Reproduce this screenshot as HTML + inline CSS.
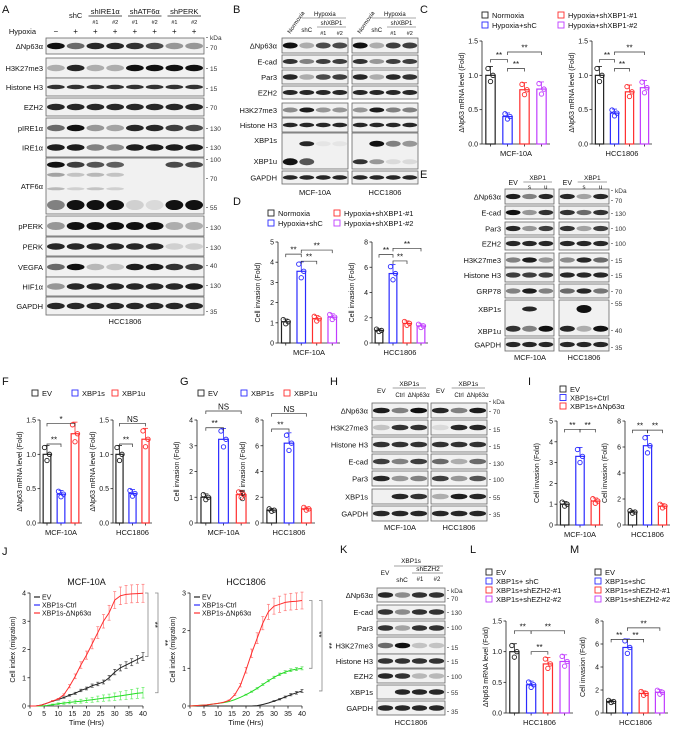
<!DOCTYPE html>
<html><head><meta charset="utf-8">
<style>
html,body{margin:0;padding:0;background:#fff;}
svg{display:block;font-family:"Liberation Sans",Arial,sans-serif;}
</style></head>
<body>
<svg id="fig" width="675" height="729" viewBox="0 0 675 729" xmlns="http://www.w3.org/2000/svg"></svg>
<script>
// ---------- chart data ----------
const cVals1=[1.0,0.40,0.79,0.80];
const cVals2=[1.0,0.45,0.76,0.82];
const dVals1=[1.05,3.55,1.2,1.28];
const dVals2=[1.0,5.5,1.55,1.35];
const fVals1=[1.0,0.42,1.3];
const fVals2=[1.0,0.43,1.22];
const gVals1=[1.0,3.25,1.1];
const gVals2=[1.0,6.2,1.1];
const iVals1=[1.0,3.3,1.15];
const iVals2=[1.0,6.1,1.45];
const lVals=[1.0,0.46,0.8,0.84];
const mVals=[1.0,5.7,1.7,1.8];
const ticks15=["0.0","0.5","1.0","1.5"];
const ticks4=["0","1","2","3","4"];
const ticks5=["0","1","2","3","4","5"];
const ticks8=["0","2","4","6","8"];
const jitter=[0.1,-0.09,0.0];
const timeHrs=[0,2,4,6,8,10,12,14,16,18,20,22,24,26,28,30,32,34,36,38,40];
const jMcfEV=[0,0,0.03,0.1,0.17,0.23,0.3,0.38,0.45,0.55,0.62,0.72,0.78,0.85,1.0,1.2,1.35,1.45,1.55,1.65,1.75];
const jMcfCtrl=[0,0,0,0.02,0.05,0.08,0.1,0.13,0.15,0.17,0.2,0.22,0.25,0.28,0.3,0.33,0.36,0.39,0.42,0.45,0.47];
const jMcfDN=[0,0,0.03,0.1,0.18,0.25,0.4,0.7,1.05,1.45,1.8,2.2,2.6,3.0,3.3,3.75,3.9,3.95,3.97,3.98,3.99];
const jHccEV=[0,0,0,0,0,0,0,0,0,0,0,0,0.01,0.04,0.08,0.13,0.18,0.24,0.3,0.35,0.4];
const jHccCtrl=[0,0.01,0.02,0.03,0.05,0.07,0.09,0.12,0.17,0.23,0.3,0.38,0.47,0.57,0.67,0.76,0.84,0.9,0.95,0.98,1.0];
const jHccDN=[0,0.01,0.02,0.03,0.05,0.07,0.1,0.15,0.3,0.55,0.95,1.4,1.8,2.2,2.5,2.65,2.7,2.75,2.77,2.78,2.8];
const jXTicks=[0,5,10,15,20,25,30,35,40];

const NS="http://www.w3.org/2000/svg";
const svg=document.getElementById('fig');
const K="#222",B="#2b2bff",R="#ff2e2e",P="#c03cff",G="#22dd22";
function el(tag,attrs,name,parent){
  const e=document.createElementNS(NS,tag);
  for(const k in attrs)e.setAttribute(k,attrs[k]);
  
  
  (parent||svg).appendChild(e);return e;
}
function t(x,y,s,size,name,anchor,extra){
  const a=Object.assign({x:x,y:y,'font-size':size,'text-anchor':anchor||'start',fill:'#111'},extra||{});
  const e=el('text',a,name);e.textContent=s;return e;
}
function line(x1,y1,x2,y2,c,w,name){return el('line',{x1,y1,x2,y2,stroke:c||'#222','stroke-width':w||0.8},name||'line');}
// ---------- blots ----------
function blot(x,y,w,h,bands,name){
  el('rect',{x:x,y:y,width:w,height:h,fill:'#f1f1f1',stroke:'#666','stroke-width':0.8},name);
  const n=bands[0][1].length,lw=w/n;
  bands.forEach(b=>{b[1].forEach((v,i)=>{
    if(v<=0)return;
    el('ellipse',{cx:x+lw*(i+0.5),cy:y+h*b[0],rx:lw*0.45,ry:b[2]||Math.min(h*0.2,3.2),fill:'#111',opacity:v},name+'-band');
  });});
}
function kda(x,arr){arr.forEach(a=>{line(x,a[1]-2.5,x+2,a[1]-2.5,'#444',0.6,'kda-tick');t(x+4,a[1],a[0],6.5,'kda-'+a[0],'start',{fill:'#333'});});}

// panel letters
[["A",2,13],["B",233,13],["C",420,13],["D",233,205],["E",420,178],["F",2,385],["G",180,385],["H",330,385],["I",528,385],["J",2,555],["K",340,553],["L",470,553],["M",570,553]]
.forEach(p=>t(p[1],p[2],p[0],11,'panel-label-'+p[0]));

// ---------- Panel A ----------
(function(){
  const x=46,w=158;
  const rows=[["ΔNp63α",38,16,[[0.5,[1,.6,.9,.9,.85,.75,.4,.4]]]],
  ["H3K27me3",58,20,[[0.5,[.3,.9,.3,.3,1,1,1,1]]]],
  ["Histone H3",78,18,[[0.5,[.85,.85,.85,.85,.85,.85,.85,.85],2.2]]],
  ["EZH2",98,18,[[0.5,[.9,.9,.9,.9,.9,.9,.9,.9]]]],
  ["pIRE1α",118,20,[[0.5,[.6,1,.4,.35,.9,.9,.8,.75]]]],
  ["IRE1α",138,19,[[0.5,[.95,.95,.5,.45,.95,.95,.95,.95]]]],
  ["ATF6α",158,56,[[0.12,[1,.8,.7,.65,0,0,.75,.75],3],[0.3,[.35,.2,.25,.2,0,0,0,0],2],[0.55,[.25,.15,.2,.15,0,0,0,0],1.5],[0.84,[.5,1,1,1,.15,.1,1,1],5]]],
  ["pPERK",216,20,[[0.5,[.4,1,1,1,1,1,.3,.3],4]]],
  ["PERK",237,19,[[0.5,[.9,.9,.9,.9,.9,.9,.15,.15]]]],
  ["VEGFA",257,20,[[0.5,[.6,1,.25,.2,.95,.95,.85,.8]]]],
  ["HIF1α",277,19,[[0.5,[.4,.9,.9,.9,.9,.9,.9,.95]]]],
  ["GAPDH",297,18,[[0.5,[.9,.9,.9,.9,.9,.9,.9,.9]]]]];
  rows.forEach(r=>{blot(x,r[1],w,r[2],r[3],'blot-a-'+r[0]);t(43,r[1]+r[2]/2+3,r[0],7.5,'label-a','end');});
  kda(206,[["kDa",40],["70",50],["15",71],["15",91],["70",110],["130",131],["130",150],["100",162],["70",181],["55",210],["130",230],["130",250],["40",268],["130",288],["35",314]]);
  const lw=w/8;
  t(36,34,"Hypoxia",7.5,'hypoxia-label','end');
  ["−","+","+","+","+","+","+","+"].forEach((s,i)=>t(x+lw*(i+0.5),34,s,8,'hypoxia-sign','middle'));
  t(x+lw*1.5,18,"shC",7.5,'lane-shc','middle');
  [["shIRE1α",2],["shATF6α",4],["shPERK",6]].forEach(g=>{t(x+lw*(g[1]+1),14,g[0],7.5,'lane-group','middle');line(x+lw*g[1]+3,16,x+lw*(g[1]+2)-3,16,'#777',1.2,'group-line');
    t(x+lw*(g[1]+0.5),24,"#1",5.5,'lane-num','middle');t(x+lw*(g[1]+1.5),24,"#2",5.5,'lane-num','middle');});
  t(125,324,"HCC1806",7.5,'cell-line-a','middle');
})();

// ---------- Panel B ----------
(function(){
  const rows=[["ΔNp63α",38,15,[[0.5,[1,.3,.75,.75]]]],["E-cad",55,13,[[0.5,[.85,.5,.8,.8],2.5]]],["Par3",70,14,[[0.5,[.9,.3,.75,.8]]]],
  ["EZH2",86,13,[[0.5,[.9,.9,.9,.9],2.5]]],["H3K27me3",103,14,[[0.5,[.45,.95,.4,.4],2.5]]],["Histone H3",118,14,[[0.5,[.9,.9,.9,.9],2.2]]],
  ["XBP1",133,36,[[0.3,[0,.9,.05,.05],2.5],[0.8,[1,.7,0,0],3.5]]],["GAPDH",171,13,[[0.5,[.9,.9,.9,.9],2.2]]]];
  const rowsH=[[1,.3,.8,.8],[.85,.4,.8,.8],[.9,.3,.9,.85],[.9,.9,.9,.9],[.4,.95,.5,.5],[.9,.9,.9,.9],null,[.9,.9,.9,.9]];
  rows.forEach((r,i)=>{
    blot(282,r[1],66,r[2],r[3],'blot-b-mcf');
    const bh=i===6?[[0.3,[0,1,.5,.4],3],[0.8,[.85,.4,.1,.1],2.5]]:[[0.5,rowsH[i],r[3][0][2]]];
    blot(352,r[1],66,r[2],bh,'blot-b-hcc');
    if(r[0]==="XBP1"){t(277,143,"XBP1s",7.5,'label-b','end');t(277,164,"XBP1u",7.5,'label-b','end');}
    else t(277,r[1]+r[2]/2+3,r[0],7.5,'label-b','end');
  });
  [282,352].forEach(x0=>{
    const lw=66/4;
    t(x0+lw*0.5,34,"Normoxia",6,'lane-normoxia','start',{transform:`rotate(-55 ${x0+lw*0.5} 34)`});
    t(x0+lw*2.6,16,"Hypoxia",6,'lane-hypoxia','middle');line(x0+lw*1.2,18,x0+lw*4-2,18,'#555',0.6,'hyp-line');
    t(x0+lw*1.5,32,"shC",6,'lane-shc','middle');t(x0+lw*3,25,"shXBP1",6,'lane-shxbp1','middle');line(x0+lw*2+2,27,x0+lw*4-2,27,'#555',0.6,'sh-line');
    t(x0+lw*2.5,35,"#1",5.5,'lane-num','middle');t(x0+lw*3.5,35,"#2",5.5,'lane-num','middle');
  });
  t(315,195,"MCF-10A",7.5,'cell-b-mcf','middle');t(385,195,"HCC1806",7.5,'cell-b-hcc','middle');
})();

// ---------- Panel E ----------
(function(){
  const rows=[["ΔNp63α",189,15,[.95,.5,.9],[.9,.35,.9]],["E-cad",206,13,[1,.4,.85],[.85,.6,.85]],["Par3",222,13,[.9,.4,.8],[.85,.35,.8]],
  ["EZH2",237,13,[.9,.9,.9],[.9,.9,.9]],["H3K27me3",253,14,[.5,.95,.4],[.45,.9,.6]],["Histone H3",268,14,[.8,.8,.8],[.9,.9,.9]],
  ["GRP78",284,14,[.5,.95,.5],[.6,.9,.55]],["XBP1",300,36,null,null],["GAPDH",338,13,[.9,.9,.9],[.9,.9,.9]]];
  rows.forEach(r=>{
    if(r[0]==="XBP1"){
      blot(505,r[1],49,r[2],[[0.25,[0,.9,0],2.5],[0.8,[.85,.5,1],3]],'blot-e-mcf');
      blot(559,r[1],50,r[2],[[0.25,[0,1,0],4],[0.8,[.9,.3,1],3]],'blot-e-hcc');
      t(501,312,"XBP1s",7.5,'label-e','end');t(501,334,"XBP1u",7.5,'label-e','end');
    } else {
      blot(505,r[1],49,r[2],[[0.5,r[3],2.6]],'blot-e-mcf');blot(559,r[1],50,r[2],[[0.5,r[4],2.6]],'blot-e-hcc');
      t(501,r[1]+r[2]/2+3,r[0],7.5,'label-e','end');
    }
  });
  kda(611,[["kDa",193],["70",203],["130",216],["100",231],["100",246],["15",263],["15",278],["70",294],["55",306],["40",333],["35",350]]);
  [[505,49],[559,50]].forEach(b=>{const lw=b[1]/3;
    t(b[0]+lw*0.5,185,"EV",7,'lane-ev','middle');t(b[0]+lw*2,180,"XBP1",6.5,'lane-xbp1','middle');line(b[0]+lw+2,182,b[0]+b[1]-2,182,'#444',0.6,'xbp1-line');
    t(b[0]+lw*1.5,189,"s",6,'lane-s','middle');t(b[0]+lw*2.5,189,"u",6,'lane-u','middle');});
  t(530,360,"MCF-10A",7.5,'cell-e-mcf','middle');t(584,360,"HCC1806",7.5,'cell-e-hcc','middle');
})();

// ---------- Panel H ----------
(function(){
  const rows=[["ΔNp63α",403,15,[.95,.5,1],[.9,.5,.95]],["H3K27me3",420,15,[.2,.85,.85],[.1,.9,.9]],["Histone H3",437,15,[.85,.85,.85],[.85,.85,.85]],
  ["E-cad",454,15,[.8,.5,.8],[.6,.3,.6]],["Par3",471,15,[.9,.4,.5],[.8,.4,.7]],["XBP1s",489,15,[0,.9,.85],[.3,.95,.9]],["GAPDH",506,15,[.9,.9,.9],[.9,.9,.9]]];
  rows.forEach(r=>{blot(372,r[1],56,r[2],[[0.5,r[3],2.8]],'blot-h-mcf');blot(431,r[1],56,r[2],[[0.5,r[4],2.8]],'blot-h-hcc');t(368,r[1]+r[2]/2+3,r[0],7.5,'label-h','end');});
  kda(489,[["kDa",404],["70",414],["15",432],["15",449],["130",466],["100",482],["55",500],["35",517]]);
  [[372,56],[431,56]].forEach(b=>{const lw=b[1]/3;
    t(b[0]+lw*0.5,393,"EV",6.5,'lane-ev','middle');t(b[0]+lw*2,386,"XBP1s",6.5,'lane-xbp1s','middle');line(b[0]+lw+2,388,b[0]+b[1]-2,388,'#444',0.6,'xbp1s-line');
    t(b[0]+lw*1.5,397,"Ctrl",6,'lane-ctrl','middle');t(b[0]+lw*2.5,397,"ΔNp63α",6,'lane-dnp63','middle');});
  t(400,530,"MCF-10A",7.5,'cell-h-mcf','middle');t(459,530,"HCC1806",7.5,'cell-h-hcc','middle');
})();

// ---------- Panel K ----------
(function(){
  const rows=[["ΔNp63α",588,14,[.9,.45,.85,.85]],["E-cad",605,14,[.85,.45,.85,.85]],["Par3",621,14,[.85,.35,.85,.85]],
  ["H3K27me3",637,17,[.6,1,.2,.2]],["Histone H3",654,14,[.85,.85,.85,.85]],["EZH2",669,14,[.9,.85,.25,.25]],["XBP1s",685,14,[0,.9,.9,.9]],["GAPDH",701,14,[.9,.9,.9,.9]]];
  rows.forEach(r=>{blot(377,r[1],68,r[2],[[0.5,r[3],2.8]],'blot-k');t(373,r[1]+r[2]/2+3,r[0],7.5,'label-k','end');});
  kda(447,[["kDa",593],["70",601],["130",615],["100",630],["15",650],["15",664],["100",679],["55",695],["35",714]]);
  t(385,575,"EV",6.5,'lane-ev','middle');t(411,563,"XBP1s",6.5,'lane-xbp1s','middle');line(394,566,443,566,'#444',0.6,'xbp1s-line');
  t(402,582,"shC",6.5,'lane-shc','middle');t(428,571,"shEZH2",6.5,'lane-shezh2','middle');line(412,573,443,573,'#444',0.6,'shezh2-line');
  t(420,581,"#1",6,'lane-num','middle');t(437,581,"#2",6,'lane-num','middle');
  t(411,725,"HCC1806",7.5,'cell-k','middle');
})();

// ---------- bar charts ----------
function barChart(o){
  const {x0,x1,y0,y1,max,ticks,vals,cols,label,ylab,name}=o;
  const ys=v=>y0-(v/max)*(y0-y1);
  const n=vals.length,gap=(x1-x0)/n,bw=gap*0.55;
  line(x0,y0,x0,y1,'#222',0.8,name+'-y-axis');line(x0,y0,x1,y0,'#222',0.8,name+'-x-axis');
  ticks.forEach((tk,i)=>{const v=max*i/(ticks.length-1),y=ys(v);line(x0-2.5,y,x0,y,'#222',0.8,'y-tick');t(x0-4,y+2.5,tk,7,name+'-tick-label','end');});
  vals.forEach((v,i)=>{
    const cx=x0+gap*(i+0.5),c=cols[i];
    line(cx,y0,cx,y0+2.5,'#222',0.8,'x-tick');
    el('rect',{x:cx-bw/2,y:ys(v),width:bw,height:y0-ys(v),fill:'#fff',stroke:c,'stroke-width':1.2},name+'-bar-'+i);
    const e=v*0.13;line(cx,ys(v),cx,ys(v+e),c,0.8,'error-bar');line(cx-2.5,ys(v+e),cx+2.5,ys(v+e),c,0.8,'error-cap');
    jitter.forEach((j,k)=>el('circle',{cx:cx+(k-1)*2.5,cy:ys(v*(1+j)),r:2.2,fill:'none',stroke:c,'stroke-width':0.9},name+'-point'));
  });
  t((x0+x1)/2,y0+12,label,7.5,name+'-x-label','middle');
  const my=(y0+y1)/2;t(x0-18,my,ylab,7,name+'-y-title','middle',{transform:`rotate(-90 ${x0-18} ${my})`});
  (o.sig||[]).forEach((s,k)=>{const a=x0+gap*(s[0]+0.5),b=x0+gap*(s[1]+0.5),y=ys(s[2]);
    el('path',{d:`M${a} ${y+3}V${y}H${b}V${y+3}`,fill:'none',stroke:'#333','stroke-width':0.7},name+'-sig-bracket');
    t((a+b)/2,y-1.5,s[3],8,name+'-sig-label','middle');});
}
function legend(x,y,items,dx,dy,cols2){
  items.forEach((it,i)=>{const col=Math.floor(i/cols2),row=i%cols2;const xx=x+col*dx,yy=y+row*dy;
    el('rect',{x:xx,y:yy-6,width:6,height:6,fill:'none',stroke:it[1],'stroke-width':0.9},'legend-swatch');
    t(xx+10,yy,it[0],7.5,'legend-entry','start');});
}
const mr="ΔNp63 mRNA level (Fold)",ci="Cell invasion (Fold)";
const C4=[K,B,R,P],C3=[K,B,R];
legend(482,18,[["Normoxia",K],["Hypoxia+shC",B],["Hypoxia+shXBP1-#1",R],["Hypoxia+shXBP1-#2",P]],76,10,2);
barChart({x0:482,x1:550,y0:144,y1:41,max:1.5,ticks:ticks15,vals:cVals1,cols:C4,label:"MCF-10A",ylab:mr,name:'c1',sig:[[0,1,1.23,"**"],[1,2,1.1,"**"],[1,3,1.34,"**"]]});
barChart({x0:592,x1:652,y0:144,y1:41,max:1.5,ticks:ticks15,vals:cVals2,cols:C4,label:"HCC1806",ylab:mr,name:'c2',sig:[[0,1,1.23,"**"],[1,2,1.1,"**"],[1,3,1.34,"**"]]});
legend(268,216,[["Normoxia",K],["Hypoxia+shC",B],["Hypoxia+shXBP1-#1",R],["Hypoxia+shXBP1-#2",P]],66,10,2);
barChart({x0:278,x1:340,y0:343,y1:242,max:5,ticks:ticks5,vals:dVals1,cols:C4,label:"MCF-10A",ylab:ci,name:'d1',sig:[[0,1,4.4,"**"],[1,2,4.05,"**"],[1,3,4.6,"**"]]});
barChart({x0:372,x1:428,y0:343,y1:242,max:8,ticks:ticks8,vals:dVals2,cols:C4,label:"HCC1806",ylab:ci,name:'d2',sig:[[0,1,7.0,"**"],[1,2,6.5,"**"],[1,3,7.5,"**"]]});
legend(32,396,[["EV",K],["XBP1s",B],["XBP1u",R]],40,10,1);
barChart({x0:40,x1:82,y0:523,y1:420,max:1.5,ticks:ticks15,vals:fVals1,cols:C3,label:"MCF-10A",ylab:mr,name:'f1',sig:[[0,1,1.15,"**"],[0,2,1.45,"*"]]});
barChart({x0:113,x1:152,y0:523,y1:420,max:1.5,ticks:ticks15,vals:fVals2,cols:C3,label:"HCC1806",ylab:mr,name:'f2',sig:[[0,1,1.15,"**"],[0,2,1.45,"NS"]]});
legend(198,396,[["EV",K],["XBP1s",B],["XBP1u",R]],43,10,1);
barChart({x0:197,x1:250,y0:523,y1:420,max:4,ticks:ticks4,vals:gVals1,cols:C3,label:"MCF-10A",ylab:ci,name:'g1',sig:[[0,1,3.7,"**"],[0,2,4.35,"NS"]]});
barChart({x0:263,x1:315,y0:523,y1:420,max:8,ticks:ticks8,vals:gVals2,cols:C3,label:"HCC1806",ylab:ci,name:'g2',sig:[[0,1,7.3,"**"],[0,2,8.5,"NS"]]});
legend(560,392,[["EV",K],["XBP1s+Ctrl",B],["XBP1s+ΔNp63α",R]],0,8.5,3);
barChart({x0:557,x1:603,y0:525,y1:421,max:5,ticks:ticks5,vals:iVals1,cols:C3,label:"MCF-10A",ylab:ci,name:'i1',sig:[[0,1,4.6,"**"],[1,2,4.6,"**"]]});
barChart({x0:625,x1:670,y0:525,y1:421,max:8,ticks:ticks8,vals:iVals2,cols:C3,label:"HCC1806",ylab:ci,name:'i2',sig:[[0,1,7.3,"**"],[1,2,7.3,"**"]]});
legend(486,575,[["EV",K],["XBP1s+ shC",B],["XBP1s+shEZH2-#1",R],["XBP1s+shEZH2-#2",P]],0,9,4);
barChart({x0:506,x1:573,y0:713,y1:621,max:1.5,ticks:ticks15,vals:lVals,cols:C4,label:"HCC1806",ylab:mr,name:'l',sig:[[0,1,1.34,"**"],[1,2,1.0,"**"],[1,3,1.34,"**"]]});
legend(595,575,[["EV",K],["XBP1s+shC",B],["XBP1s+shEZH2-#1",R],["XBP1s+shEZH2-#2",P]],0,9,4);
barChart({x0:603,x1:668,y0:713,y1:621,max:8,ticks:ticks8,vals:mVals,cols:C4,label:"HCC1806",ylab:ci,name:'m',sig:[[0,1,6.4,"**"],[1,2,6.4,"**"],[1,3,7.4,"**"]]});

// ---------- line charts J ----------
function lineChart(o){
  const {x0,x1,y0,y1,max,title,series,name}=o;
  const xs=v=>x0+(v/40)*(x1-x0), ys=v=>y0-(v/max)*(y0-y1);
  t((x0+x1)/2,y1-8,title,9,name+'-title','middle');
  line(x0,y0,x0,y1,'#222',0.8,name+'-y-axis');line(x0,y0,x1,y0,'#222',0.8,name+'-x-axis');
  for(let i=0;i<=max;i++){line(x0-2.5,ys(i),x0,ys(i),'#222',0.8,'y-tick');t(x0-4,ys(i)+2.5,String(i),7,name+'-y-tick-label','end');}
  jXTicks.forEach(v=>{line(xs(v),y0,xs(v),y0+2.5,'#222',0.8,'x-tick');t(xs(v),y0+10,String(v),7,name+'-x-tick-label','middle');});
  t((x0+x1)/2,y0+19,"Time (Hrs)",7.5,name+'-x-title','middle');
  const my=(y0+y1)/2;t(x0-15,my,"Cell index (migration)",7,name+'-y-title','middle',{transform:`rotate(-90 ${x0-15} ${my})`});
  series.forEach(s=>{
    const vals=s[0],c=s[1];
    let d="";vals.forEach((v,i)=>{d+=(i?"L":"M")+xs(timeHrs[i])+" "+ys(v);
      const e=v*(s[3]||0.1);if(e>0.01){line(xs(timeHrs[i]),ys(v-e),xs(timeHrs[i]),ys(v+e),s[2],0.7,'error-bar');
        line(xs(timeHrs[i])-1.5,ys(v+e),xs(timeHrs[i])+1.5,ys(v+e),s[2],0.7,'error-cap');line(xs(timeHrs[i])-1.5,ys(v-e),xs(timeHrs[i])+1.5,ys(v-e),s[2],0.7,'error-cap');}});
    el('path',{d:d,fill:'none',stroke:c,'stroke-width':1},name+'-series-line');
  });
  [["EV",K],["XBP1s-Ctrl",B],["XBP1s-ΔNp63α",R]].forEach((l,i)=>{const yy=y1+4+i*8;line(x0+4,yy,x0+10,yy,l[1],1.2,'legend-line');t(x0+12,yy+2.5,l[0],7,'legend-entry','start');});
  (o.br||[]).forEach(b=>{el('path',{d:`M${b[0]-3} ${ys(b[1])}H${b[0]}V${ys(b[2])}H${b[0]-3}`,fill:'none',stroke:'#888','stroke-width':0.8},name+'-sig-bracket');
    t(b[0]+4,(ys(b[1])+ys(b[2]))/2,"**",8,name+'-sig-label','middle',{transform:`rotate(90 ${b[0]+4} ${(ys(b[1])+ys(b[2]))/2})`});});
}
lineChart({x0:30,x1:143,y0:706,y1:593,max:4,title:"MCF-10A",name:'j1',
  series:[[jMcfEV,K,'#444',0.08],[jMcfCtrl,G,'#66ee66',0.4],[jMcfDN,R,'#ff7777',0.08]],br:[[148,4.0,1.75],[158,4.0,0.47]]});
lineChart({x0:190,x1:302,y0:706,y1:593,max:3,title:"HCC1806",name:'j2',
  series:[[jHccEV,K,'#444',0.1],[jHccCtrl,G,'#55dd55',0.04],[jHccDN,R,'#ff7777',0.08]],br:[[312,2.8,1.0],[322,2.8,0.4]]});
</script>
</body></html>
